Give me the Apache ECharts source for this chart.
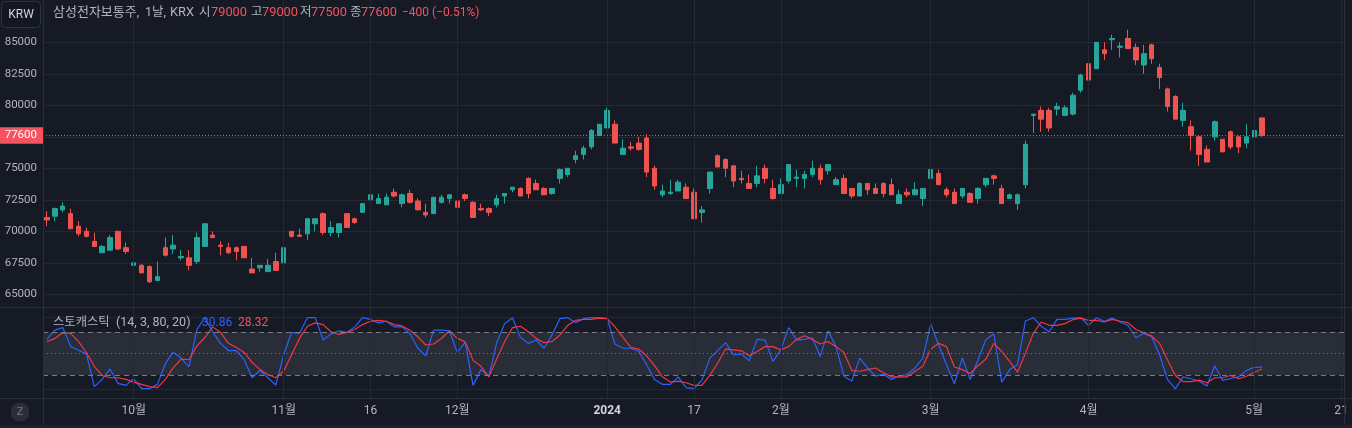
<!DOCTYPE html>
<html><head><meta charset="utf-8">
<script src="https://cdn.jsdelivr.net/npm/echarts@6.0.0/dist/echarts.min.js"></script>
<style>html,body{margin:0;padding:0;background:#161a25;}#c{width:1352px;height:428px;}</style>
</head><body><div id="c"></div>
<script>
// ---------- categories (KRX trading days + empty future slots) ----------
function mk(ym, s) { return s.split(' ').map(d => ym + '-' + d); }
const dates = [].concat(
  mk('2023-09', '13 14 15 18 19 20 21 22 25 26 27'),
  mk('2023-10', '04 05 06 10 11 12 13 16 17 18 19 20 23 24 25 26 27 30 31'),
  mk('2023-11', '01 02 03 06 07 08 09 10 13 14 15 16 17 20 21 22 23 24 27 28 29 30'),
  mk('2023-12', '01 04 05 06 07 08 11 12 13 14 15 18 19 20 21 22 26 27 28'),
  mk('2024-01', '02 03 04 05 08 09 10 11 12 15 16 17 18 19 22 23 24 25 26 29 30 31'),
  mk('2024-02', '01 02 05 06 07 08 13 14 15 16 19 20 21 22 23 26 27 28 29'),
  mk('2024-03', '04 05 06 07 08 11 12 13 14 15 18 19 20 21 22 25 26 27 28 29'),
  mk('2024-04', '01 02 03 04 05 08 09 11 12 15 16 17 18 19 22 23 24 25 26 29 30'),
  mk('2024-05', '02 03 07 08 09 10 13 14 16 17 20 21')
);

// ---------- time-axis tick labels ----------
const tickDates = ['2023-10-04','2023-11-01','2023-11-16','2023-12-01','2024-01-02','2024-01-17','2024-02-01','2024-03-04','2024-04-01','2024-05-02','2024-05-21'];
const tickTexts = ['10월','11월','16','12월','2024','17','2월','3월','4월','5월','21'];

// ---------- price (OHLC) ----------
const open = [71100,71200,71700,71400,70400,70000,69200,68300,68500,70000,68700,67300,67300,67200,66100,68700,68600,67900,67900,67600,
68800,69700,68900,68700,68700,68800,67000,67100,66800,67600,67500,70000,69700,69800,70600,71400,69900,69900,71400,71000,
71500,72500,72200,72100,73100,72200,73000,72400,71500,71400,72300,72600,72400,72900,72300,71800,71800,72100,72800,73300,
73400,74200,73800,73400,73000,74200,74500,75700,76100,76700,77600,78200,78500,76100,76700,77000,77400,75000,72900,73000,
73200,73500,73100,71500,73400,76000,75700,75200,74200,73800,73800,75000,73400,73000,74000,74200,74200,74500,75000,74800,
73700,74200,73400,72800,73800,73400,73800,73700,72200,73100,72900,72600,74200,74600,73300,73100,72800,73000,72600,73700,
74400,73400,72600,72200,73700,79200,79600,79600,79700,79200,79300,81200,83300,82900,84400,85200,84600,85300,84600,83200,
84800,83000,81300,80700,78800,78300,77500,76500,77500,77300,77900,77500,77000,77500,79000];
const high = [71600,71900,72300,71800,70800,70300,69900,68900,69700,70000,69100,67700,67400,67300,67600,69500,69700,68500,68500,69900,
70600,70000,69200,69100,68800,68800,67900,67300,67800,68300,68900,70000,70200,71000,71000,71500,70800,70600,71400,71100,
72200,73000,73000,73000,73400,73000,73300,72600,72200,72700,72900,72900,72600,73000,72400,72200,71900,72900,73000,73500,
73500,74300,74100,73500,73400,75000,75000,76400,76800,78100,78500,79800,78800,77300,77100,77500,77700,75200,73700,74100,
74100,73800,73400,72000,74700,76100,75800,75200,74800,74500,75200,75300,74100,74200,75300,74900,74800,75600,75300,75300,
74300,74500,73400,73900,73800,73800,73900,74200,73300,73400,73900,73400,75000,74900,73500,73400,73400,73100,73500,74200,
74500,73700,73000,73000,77200,79300,79900,79800,80200,80000,81000,82500,83400,85000,85000,85600,85000,86000,84900,84800,
84900,83300,81400,80800,80200,78800,77600,76800,78800,77300,78000,77600,78500,78700,79000];
const low = [70400,70800,71500,70200,69600,69500,68800,68300,68500,68500,68200,66800,66700,65900,66100,68000,68200,67700,66900,67400,
68800,69500,68100,68200,67700,67900,66700,66800,66800,66900,67300,69500,69600,69300,70000,69700,69600,69500,70300,70600,
71500,72300,72200,72100,72700,71900,72200,71700,71100,71400,72200,72200,71800,72400,71100,71600,71200,71900,72200,73100,
72800,72600,73300,72900,72900,73800,74300,75400,75700,76500,77600,78200,77000,76100,76400,76400,74300,73300,72700,72900,
73200,72600,71000,70700,73000,75100,74300,73500,73800,73400,73500,73800,72500,73000,73800,73500,73400,74300,73700,74500,
73700,73000,72600,72800,72900,73000,72700,72900,72200,72700,72900,72000,74100,73700,72700,72200,72600,72300,72200,73500,
73700,72200,72600,71700,73400,77800,77900,77900,79200,79200,79200,81000,82000,82900,83600,84400,83800,84500,83200,82500,
83300,81300,79500,78900,78300,76400,75200,75500,77200,76300,76500,76200,76600,77300,77500];
const close = [70900,71800,72000,70200,69800,69600,68800,68800,69500,68600,68400,67500,66700,66000,66400,68100,68900,68000,67300,69500,
70600,69500,68800,68300,68400,67900,66700,67300,67300,66900,68700,69600,69600,71000,71000,69900,70300,70600,70300,70700,
72200,72900,72600,72700,72800,72900,72300,71700,71300,72700,72700,72900,71900,72600,71100,71700,71500,72600,73000,73500,
72800,73000,73300,72900,73400,74900,75000,76000,76600,78000,78500,79600,77000,76600,76600,76500,74700,73600,73200,73100,
73900,72600,71000,71700,74700,75100,75000,74000,74100,73400,74400,74200,72600,73700,75300,74300,74500,75000,74100,75300,
74100,73000,72800,73800,73300,73000,73000,72900,72900,72900,73300,73400,74900,73700,72900,72200,73400,72300,73400,74200,
74200,72200,72900,72900,76900,79300,78900,78200,79900,79800,80800,82400,82000,85000,84100,85300,84700,84500,83600,84100,
83700,82200,79900,78900,79600,77600,76100,75500,78700,76300,76700,76700,77500,78000,77600];

// ---------- stochastic (14, 3, 80, 20): %K and %D ----------
const kLine = [69.7,82.6,86.2,59.6,54.6,49.5,3.7,13.8,28.4,8.3,5.5,14.7,0.9,0.9,6.9,35.8,51.8,43.6,31.2,83.5,
100,80.3,64.2,54.1,54.1,41.3,16.1,26.6,16.1,6,48.2,79.4,78,100,100,68.8,77.1,81.7,79.4,87.2,
100,97.7,92.7,95,87.2,87.2,78,57.3,46.8,82.6,82.6,81.7,51.4,65.6,5.5,27.5,18.3,65.1,91.7,100,
72.5,64.2,68.8,57.3,75.7,98.6,100,93.1,98.6,100,100,98.6,62.8,57.3,57.3,52.8,34.4,13.8,6.9,6.9,
17.4,2.3,0.9,12.8,43.6,54.1,65.1,48.2,49.5,39.9,69.7,68.8,39,55,86.2,68.8,69.7,72,45.9,81.7,
59.6,18.3,11.5,43.6,29.8,18.3,21,13.8,18.3,20.6,29.8,43.6,91.7,61.9,34.4,7.8,43.6,13.8,41.3,69.7,
77.1,10.1,27.5,34.4,95.4,100,88.1,80.3,97.7,97.7,99.5,100,89.4,100,95,99.5,94,89.4,72,78,
73.4,48.2,13.8,0.9,17.4,14.7,11.5,4.6,33,12.4,15.1,17.4,26.1,30.7,30.86];
const dLine = [66.5,71.1,78.9,78,66.5,51.4,32.1,19.3,16.1,16.1,13.8,10.1,6.9,3.7,2.3,13.8,29.8,42.2,41.3,60.6,
72,87.2,79.4,64.2,58.3,51.4,37.6,27.5,20.6,16.1,25.2,48.2,71.1,88,92.7,90.4,80.3,76.6,79.4,83.5,
90.4,95,96.3,95,90.4,88.5,82.6,73.4,61.9,63.3,71,81.7,71.1,66.5,40.4,32.1,17.4,42.2,66.5,86.2,
88.1,80.3,71.1,65.1,66.5,75.7,89.4,96.3,97.7,97.7,99.5,98.6,87.2,72.5,58.7,56,46.8,33,17.4,10.1,
11.5,9.2,5.5,5.5,19.3,36.7,56,55,53.7,46.8,52.8,59.6,59.6,55,59.6,69.7,74.8,69.7,63.3,66.5,
59.6,51.4,26.1,25.2,27.5,29.8,23,17.4,17.4,17.4,25.2,32.1,56,64.2,59.6,31.2,27.5,22,33,42.2,
64.2,52.8,39,23.9,50.5,78,94,89.4,89.4,91.7,97.2,99.5,96.3,96.3,94,97.7,95,93.1,83.5,78.9,
74.3,64.2,41.3,19.3,10.6,10.6,12.8,9.2,16.1,16.1,19.3,14.7,18.3,23.9,28.32];

const yTicks = {min: 65000, max: 85000, step: 2500};

// ---------- derived ----------
const N = close.length;
const candles = close.map((c, i) => [open[i], c, low[i], high[i]]);
const lastO = open[N-1], lastH = high[N-1], lastL = low[N-1], lastC = close[N-1];
const chg = lastC - close[N-2];
const pct = chg / close[N-2] * 100;
const sgn = v => (v < 0 ? '\u2212' : '+');
const chgText = sgn(chg) + Math.abs(chg) + ' (' + sgn(pct) + Math.abs(pct).toFixed(2) + '%)';

const FONT = 'Roboto, "Noto Sans CJK KR", sans-serif';
const BG = '#161a25', GRID = '#242833', BORDER = '#2a2e39', TXT = '#b2b5be', RED = '#f7525f', UP = '#26a69a', DOWN = '#ef5350', BLUE = '#2962ff';
const L = 43, R = 7;

// header segments: [text, colour, x, fontSize]
const titleSegs = [
  ['삼성전자보통주,', TXT, 53, 13], ['1날,', TXT, 145, 12.5], ['KRX', TXT, 170, 12.8],
  ['시', TXT, 199, 12.5], [String(lastO), RED, 211, 12.8],
  ['고', TXT, 251, 12.5], [String(lastH), RED, 262, 12.8], ['저', TXT, 300, 12.5], [String(lastL), RED, 311, 12.8],
  ['종', TXT, 350, 12.5], [String(lastC), RED, 361, 12.8], [chgText, RED, 402, 12]
];
const legendSegs = [
  ['스토캐스틱', TXT, 53, 12.3], ['(14, 3, 80, 20)', TXT, 116, 12.5],
  [kLine[N-1].toFixed(2), BLUE, 202, 12], [dLine[N-1].toFixed(2), RED, 238, 12]
];

const graphics = [
  {type: 'rect', z: 20, shape: {x: 1.5, y: 1.5, width: 39, height: 26, r: 4}, style: {fill: '#131722', stroke: '#2f3340', lineWidth: 1}},
  {type: 'text', z: 21, x: 21, y: 15, style: {text: 'KRW', fill: '#d1d4dc', fontSize: 12, fontFamily: FONT, align: 'center', verticalAlign: 'middle'}},
  {type: 'line', z: 15, shape: {x1: 43.5, y1: 0, x2: 43.5, y2: 425}, style: {stroke: BORDER, lineWidth: 1}},
  {type: 'line', z: 15, shape: {x1: 1344.5, y1: 0, x2: 1344.5, y2: 425}, style: {stroke: BORDER, lineWidth: 1}},
  {type: 'line', z: 15, shape: {x1: 0, y1: 307.5, x2: 1352, y2: 307.5}, style: {stroke: BORDER, lineWidth: 1}},
  {type: 'line', z: 15, shape: {x1: 0, y1: 398.5, x2: 1352, y2: 398.5}, style: {stroke: BORDER, lineWidth: 1}},
  {type: 'rect', z: 15, shape: {x: 0, y: 425, width: 1352, height: 3}, style: {fill: '#1f222c'}},
  {type: 'circle', z: 20, shape: {cx: 20, cy: 412, r: 9.5}, style: {fill: '#2a2e39'}},
  {type: 'text', z: 21, x: 20, y: 412, style: {text: 'Z', fill: '#787b86', fontSize: 11, fontFamily: FONT, align: 'center', verticalAlign: 'middle'}}
];
titleSegs.forEach(s => graphics.push({type: 'text', z: 21, x: s[2], y: 13,
  style: {text: s[0], fill: s[1], fontSize: s[3], fontFamily: FONT, align: 'left', verticalAlign: 'middle'}}));
legendSegs.forEach(s => graphics.push({type: 'text', z: 21, x: s[2], y: 323,
  style: {text: s[0], fill: s[1], fontSize: s[3], fontFamily: FONT, align: 'left', verticalAlign: 'middle'}}));

const chart = echarts.init(document.getElementById('c'), null, {renderer: 'canvas'});
chart.setOption({
  backgroundColor: BG,
  animation: false,
  textStyle: {fontFamily: FONT},
  grid: [
    {left: L, right: R, top: 42.3, height: 252},
    {left: L, right: R, top: 317.7, height: 71.6},
    {left: L, right: R, top: 0, height: 398}
  ],
  xAxis: [
    {type: 'category', gridIndex: 0, data: dates, show: false, boundaryGap: true},
    {type: 'category', gridIndex: 1, data: dates, boundaryGap: true,
      axisLine: {show: false}, axisTick: {show: false}, splitLine: {show: false},
      axisLabel: {
        interval: (i, v) => tickDates.indexOf(v) >= 0,
        formatter: v => { const t = tickTexts[tickDates.indexOf(v)]; return /^\d{4}$/.test(t) ? '{b|' + t + '}' : t; },
        color: TXT, fontSize: 12, fontFamily: FONT, margin: 16,
        rich: {b: {fontWeight: 'bold', color: '#d1d4dc', fontSize: 12, fontFamily: FONT}}
      }},
    {type: 'category', gridIndex: 2, data: dates, show: false, boundaryGap: true}
  ],
  yAxis: [
    {type: 'value', gridIndex: 0, min: yTicks.min, max: yTicks.max, interval: yTicks.step, position: 'left',
      axisLine: {show: false}, axisTick: {show: false},
      axisLabel: {color: TXT, fontSize: 11.5, fontFamily: FONT, margin: 6, formatter: v => String(v)},
      splitLine: {lineStyle: {color: GRID, width: 1}}},
    {type: 'value', gridIndex: 1, min: 0, max: 100, interval: 100,
      axisLine: {show: false}, axisTick: {show: false}, axisLabel: {show: false},
      splitLine: {lineStyle: {color: GRID, width: 1}}},
    {type: 'value', gridIndex: 2, min: 0, max: 1, show: false, splitLine: {show: false}}
  ],
  series: [
    { // vertical time grid lines
      type: 'line', xAxisIndex: 2, yAxisIndex: 2, data: [], z: 0, silent: true,
      markLine: {silent: true, symbol: ['none', 'none'], label: {show: false}, animation: false,
        lineStyle: {color: GRID, type: 'solid', width: 1},
        data: tickDates.map(d => ({xAxis: d}))}
    },
    { // stochastic band + levels
      type: 'line', xAxisIndex: 1, yAxisIndex: 1, data: [], z: 1, silent: true,
      markArea: {silent: true, itemStyle: {color: 'rgba(120,123,134,0.2)'}, data: [[{yAxis: 20}, {yAxis: 80}]]},
      markLine: {silent: true, symbol: ['none', 'none'], label: {show: false}, animation: false,
        lineStyle: {color: '#787b86', width: 1},
        data: [{yAxis: 80, lineStyle: {type: [5, 4]}}, {yAxis: 50, lineStyle: {type: [1, 3]}}, {yAxis: 20, lineStyle: {type: [5, 4]}}]}
    },
    {
      type: 'candlestick', xAxisIndex: 0, yAxisIndex: 0, data: candles, barWidth: 5, clip: false, z: 3,
      itemStyle: {color: UP, color0: DOWN, borderColor: UP, borderColor0: DOWN, borderWidth: 1},
      markLine: {silent: true, symbol: ['none', 'none'], animation: false,
        lineStyle: {color: RED, type: [1, 2], width: 1},
        label: {show: true, position: 'start', distance: 0, formatter: String(lastC), color: '#ffffff',
          backgroundColor: RED, padding: [3, 6, 2, 6], fontSize: 11.5, fontFamily: FONT},
        data: [{yAxis: lastC}]}
    },
    {type: 'line', name: 'K', xAxisIndex: 1, yAxisIndex: 1, data: kLine, symbol: 'none', z: 3,
      lineStyle: {color: BLUE, width: 1.2}},
    {type: 'line', name: 'D', xAxisIndex: 1, yAxisIndex: 1, data: dLine, symbol: 'none', z: 4,
      lineStyle: {color: '#f23645', width: 1.2}}
  ],
  graphic: graphics
});
</script></body></html>
